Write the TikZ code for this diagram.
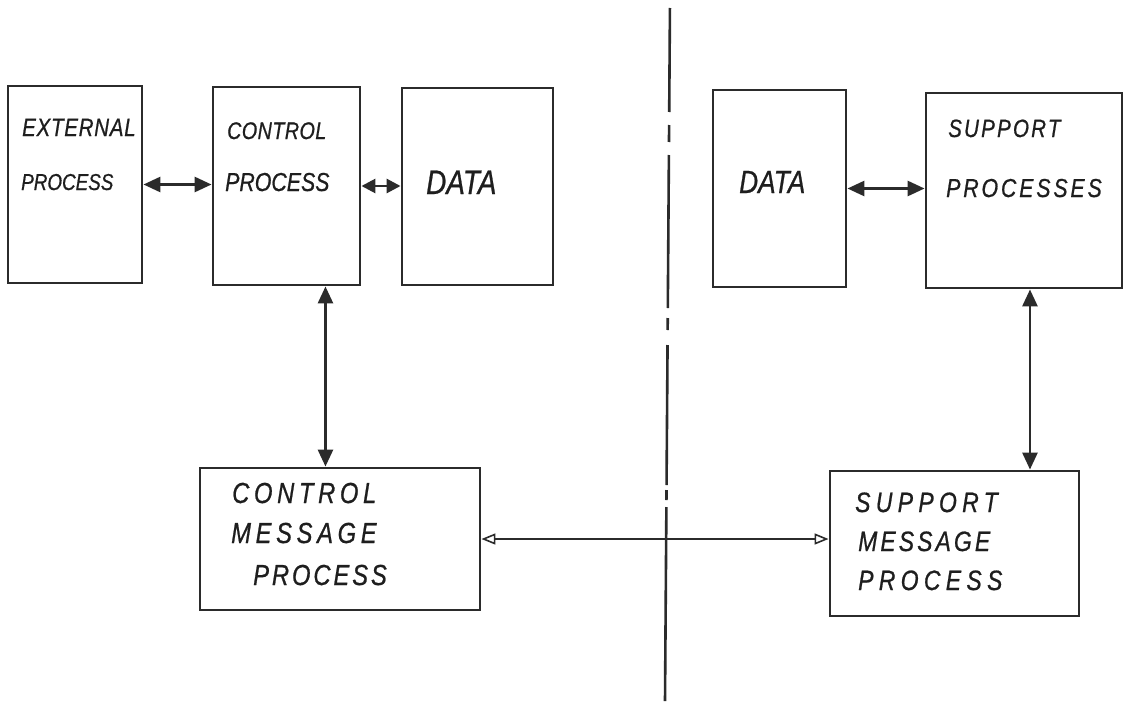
\documentclass[tikz,border=0pt]{standalone}
\usepackage{fontspec}
\setmainfont{Liberation Sans}
\usetikzlibrary{arrows.meta,fit,calc}
\definecolor{ink}{HTML}{2B2B2B}
\definecolor{pencil}{HTML}{1E1E1E}
\newcommand{\hand}[2]{\itshape\fontsize{#1}{#1}\selectfont\addfontfeature{FakeStretch=0.82,FakeBold=0.7,LetterSpace=#2}}
\tikzset{
  box/.style={draw=ink, line width=2.9pt, inner sep=0pt, fill=white},
  lbl/.style={anchor=base west, inner sep=0pt, text=pencil},
  link/.style={draw=ink, line width=2.8pt, {Triangle[length=17pt,width=15pt]}-{Triangle[length=17pt,width=15pt]}},
  shortlink/.style={draw=ink, line width=2.8pt, {Triangle[length=14pt,width=14pt]}-{Triangle[length=14pt,width=14pt]}},
  msglink/.style={draw=ink, line width=2.2pt, {Triangle[open,length=14pt,width=11pt,line width=1.6pt]}-{Triangle[open,length=14pt,width=11pt,line width=1.6pt]}},
  divider/.style={draw=ink, line width=2.6pt}
}
\begin{document}
\begin{tikzpicture}[x=1pt,y=-1pt]
  \useasboundingbox[fill=white] (0,0) rectangle (1139,701);

  % boxes
  \node[box, fit={(8,86) (142,283)}] (ext) {};
  \node[box, fit={(213,87) (360,285)}] (ctl) {};
  \node[box, fit={(402,88) (553,285)}] (datal) {};
  \node[box, fit={(713,90) (846,287)}] (datar) {};
  \node[box, fit={(926,93) (1122,288)}] (sup) {};
  \node[box, fit={(200,468) (480,610)}] (cmp) {};
  \node[box, fit={(830,471) (1079,616)}] (smp) {};

  % labels
  \node[lbl, font=\hand{25}{3}] (ext-a) at (22,136) {EXTERNAL};
  \node[lbl, font=\hand{23}{0}] (ext-b) at (21,190) {PROCESS};
  \node[lbl, font=\hand{24}{2}] (ctl-a) at (227,139) {CONTROL};
  \node[lbl, font=\hand{26}{0}] (ctl-b) at (225,191) {PROCESS};
  \node[lbl, font=\hand{34}{0}] (datal-a) at (426,194) {DATA};
  \node[lbl, font=\hand{32}{0}] (datar-a) at (739,193) {DATA};
  \node[lbl, font=\hand{25}{9}] (sup-a) at (948,137) {SUPPORT};
  \node[lbl, font=\hand{26}{11}] (sup-b) at (946,197) {PROCESSES};
  \node[lbl, font=\hand{29}{16}] (cmp-a) at (232,503) {CONTROL};
  \node[lbl, font=\hand{29}{16}] (cmp-b) at (231,543) {MESSAGE};
  \node[lbl, font=\hand{29}{10}] (cmp-c) at (253,585) {PROCESS};
  \node[lbl, font=\hand{28}{19}] (smp-a) at (855,512) {SUPPORT};
  \node[lbl, font=\hand{28}{11}] (smp-b) at (858,551) {MESSAGE};
  \node[lbl, font=\hand{28}{19}] (smp-c) at (858,590) {PROCESS};

  % connectors
  \coordinate (ctl-low) at ($(ctl.south west)!0.76!(ctl.south east)$);
  \coordinate (sup-low) at ($(sup.south west)!0.53!(sup.south east)$);
  \draw[link] (ext.east) -- (ext.east -| ctl.west);
  \draw[shortlink] (ctl.east) -- (ctl.east -| datal.west);
  \draw[link] (datar.east) -- (datar.east -| sup.west);
  \draw[link] (ctl-low) -- (ctl-low |- cmp.north);
  \draw[link] (sup-low) -- (sup-low |- smp.north);
  \draw[msglink] (cmp.east) -- (cmp.east -| smp.west);

  % broken dividing line
  \foreach \a/\b in {8/112,125/142,155/308,318/330,345/485,490/500,507/701}
    \draw[divider] ({670-5*\a/701},\a) -- ({670-5*\b/701},\b);
\end{tikzpicture}
\end{document}
